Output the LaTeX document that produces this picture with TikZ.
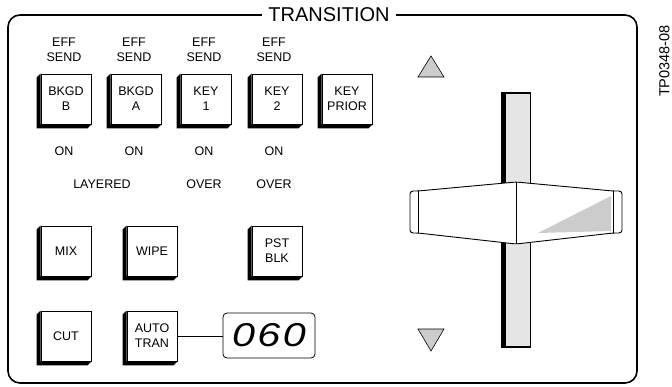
\documentclass[tikz,border=0pt]{standalone}
\usepackage{fontspec}
\setmainfont{Liberation Sans}
\usepackage{xcolor}
\usepackage{graphicx}
\usepackage{tikz}
\usetikzlibrary{positioning}

\begin{document}
\begin{tikzpicture}[
    x=1pt, y=-1pt,
    every node/.style={align=center, inner sep=0pt, font=\fontsize{12.5}{15}\selectfont},
    boton/.style={rectangle, draw, line width=0.9pt, fill=white,
                  minimum width=50pt, minimum height=50pt},
    sombra/.style={fill=black},
    triangulo/.style={draw, line width=0.6pt, fill=black!20},
    linea/.style={line width=0.9pt}
]
    \useasboundingbox (0,0) rectangle (672,386);

    % marco del panel
    \draw[line width=1.6pt, rounded corners=12pt] (8,15) rectangle (637,383);
    \node[fill=white, inner xsep=6pt, inner ysep=2pt, font=\fontsize{20}{24}\selectfont]
        (titulo) at (329,15) {TRANSITION};
    \node[rotate=90, font=\fontsize{14.5}{17}\selectfont] (codigo) at (664.5,61) {TP0348-08};

    % botones
    \node[boton] (bkgdb)    at (66,99)  {BKGD\\B};
    \node[boton] (bkgda)    at (136,99) {BKGD\\A};
    \node[boton] (key1)     at (206,99) {KEY\\1};
    \node[boton] (key2)     at (277,99) {KEY\\2};
    \node[boton] (keyprior) at (347,99) {KEY\\PRIOR};
    \node[boton] (mix)      at (66,251)  {MIX};
    \node[boton] (wipe)     at (152,251) {WIPE};
    \node[boton] (pstblk)   at (277,251) {PST\\BLK};
    \node[boton] (cut)      at (66,336)  {CUT};
    \node[boton] (auto)     at (152,336) {AUTO\\TRAN};

    \foreach \b in {bkgdb, bkgda, key1, key2, keyprior, mix, wipe, pstblk, cut, auto}
        \fill[sombra] (\b.north west) -- ++(-4,4) |- ([shift={(-4,4)}]\b.south east)
            -- (\b.south east) -- (\b.south west) -- cycle;

    % rotulos
    \foreach \x/\n in {64/1, 134/2, 204/3, 274/4} {
        \node (eff\n) at (\x,49.5) {EFF\\SEND};
        \node (on\n)  at (\x,151)  {ON};
    }
    \node (layered) at (102,184) {LAYERED};
    \node (over1)   at (204,184) {OVER};
    \node (over2)   at (274,184) {OVER};

    % pantalla
    \node[draw, line width=0.8pt, rounded corners=4pt, minimum width=92pt, minimum height=45pt,
          font=\fontsize{33}{36}\selectfont\itshape\addfontfeature{LetterSpace=6}]
        (pantalla) at (269,335.5) {\scalebox{1.25}[1]{060}};
    \draw[linea] (auto.east) -- (auto.east -| pantalla.west);

    % flechas de la palanca
    \draw[triangulo] (418,77) -- (444,77) -- (431,56) -- cycle;
    \draw[triangulo] (418,329) -- (444,329) -- (431,351) -- cycle;

    % ranura
    \fill (501,92) rectangle (531,348);
    \fill[black!10] (506,93.5) rectangle (529.5,345.5);

    % palanca
    \draw[linea, fill=white, rounded corners=3pt] (418,191) -- (516,182) -- (613,191)
        -- (622,191) -- (622,233) -- (613,233) -- (516,244) -- (418,233)
        -- (410,233) -- (410,191) -- cycle;
    \fill[black!20] (538,233) -- (611,196) -- (611,231) -- cycle;
    \draw[linea] (418,191) -- (418,233);
    \draw[linea] (516,182) -- (516,244);
    \draw[linea] (613,191) -- (613,233);
\end{tikzpicture}
\end{document}
